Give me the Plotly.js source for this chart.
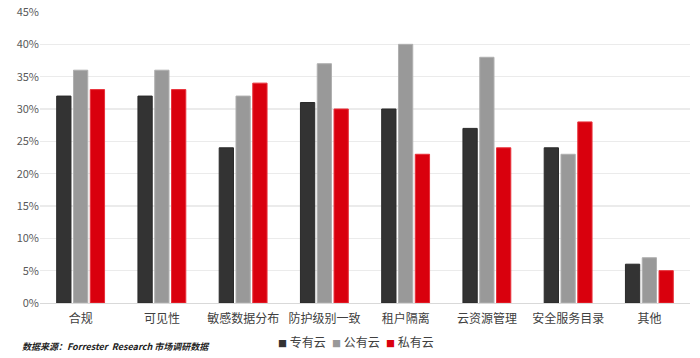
<!DOCTYPE html>
<html><head><meta charset="utf-8">
<script src="https://cdn.plot.ly/plotly-3.0.1.min.js"></script>
<style>html,body{margin:0;padding:0;background:#fff;}#chart{width:700px;height:358px;}</style>
</head><body><div id="chart"></div>
<script>
const categories = ["合规","可见性","敏感数据分布","防护级别一致","租户隔离","云资源管理","安全服务目录","其他"];
const seriesNames = ["专有云","公有云","私有云"];
const dedicated = [32,32,24,31,30,27,24,6];
const publicCloud = [36,36,32,37,40,38,23,7];
const privateCloud = [33,33,34,30,23,24,28,5];
const tickVals = [0,5,10,15,20,25,30,35,40,45];
const tickText = ["0%","5%","10%","15%","20%","25%","30%","35%","40%","45%"];
const sourceText = "数据来源：Forrester  Research 市场调研数据";

const colors = ["#333333","#999999","#d9000d"];
const lineColors = ["#2a2a2a","#b0b0b0","#e8303a"];
const vals = [dedicated, publicCloud, privateCloud];
const font = "'Noto Sans CJK SC', 'Noto Sans', sans-serif";
const traces = vals.map((v,i)=>({
  type:"bar", name:seriesNames[i], x:categories, y:v,
  marker:{color:colors[i], line:{color:lineColors[i], width:1}},
  showlegend:false, hoverinfo:"skip"
}));
// legend drawn as text annotations (compact, like the reference)
const legendX = [276, 330, 384].map(px => (px - 40) / 650);
const legendAnn = seriesNames.map((n,i)=>({
  text:"<span style='color:"+colors[i]+";font-size:9px'>■</span> "+n,
  xref:"paper", yref:"paper", x:legendX[i], xanchor:"left", y:-0.134, yanchor:"middle",
  showarrow:false, font:{size:12,color:"#404040"}
}));
const layout = {
  width:700, height:358,
  margin:{l:40,r:10,t:12,b:55, autoexpand:false},
  paper_bgcolor:"#fff", plot_bgcolor:"#fff",
  barmode:"group", bargap:0.38, bargroupgap:0.15,
  font:{family:font, color:"#595959", size:11},
  xaxis:{tickfont:{size:12,color:"#404040"}, showline:true, linecolor:"#d9d9d9", linewidth:1, ticks:"", ticklabelstandoff:5, automargin:false},
  yaxis:{range:[0,45], tickvals:tickVals, ticktext:tickText, showgrid:true, gridcolor:"#ebebeb", gridwidth:1.5, zeroline:false, showline:false, tickfont:{size:11,color:"#595959"}, ticklen:0, automargin:false},
  showlegend:false,
  annotations:[{text:"<b><i>"+sourceText+"</i></b>", xref:"paper", yref:"paper", x:-0.031, xanchor:"left", y:-0.12, yanchor:"top", showarrow:false, font:{size:9,color:"#222"}}].concat(legendAnn)
};
Plotly.newPlot("chart", traces, layout, {displayModeBar:false, staticPlot:true});
</script></body></html>
